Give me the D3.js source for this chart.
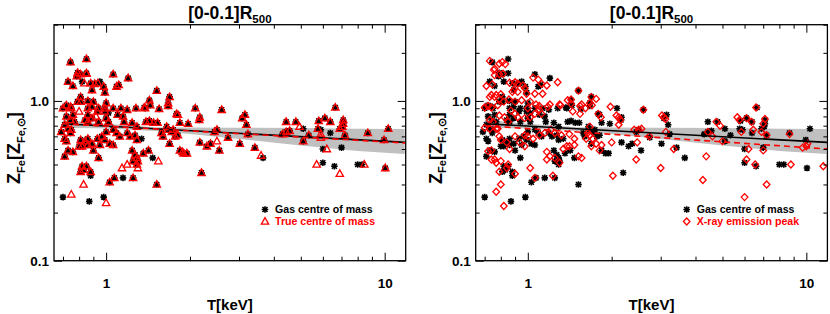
<!DOCTYPE html>
<html>
<head>
<meta charset="utf-8">
<script src="https://cdn.jsdelivr.net/npm/d3@7"></script>
<style>
  body { margin: 0; background: #fff; }
  svg { display: block; font-family: "Liberation Sans", Arial, Helvetica, sans-serif; font-weight: bold; }
</style>
</head>
<body>
<svg id="chart" width="830" height="314"></svg>
<script>
// ---- data: [T keV, Z_Fe] ----
var gasPoints = [
  [0.745,1.75],[0.85,1.83],[0.73,1.32],[0.76,1.24],[0.79,1.5],[0.785,1.43],[0.81,1.47],[0.85,1.49],[0.82,1.32],
  [0.88,1.29],[0.91,1.28],[0.935,1.29],[0.95,1.32],[0.98,1.23],[0.99,1.13],[0.89,1.17],[1.06,1.47],[1.09,1.23],
  [1.11,1.26],[1.2,1.39],[1.52,1.16],[1.69,1.06],[1.67,0.97],[1.79,0.83],
  [0.81,1.06],[0.81,0.99],[0.79,0.99],[0.72,0.94],[0.745,0.92],[0.7,0.9],[0.75,0.9],[0.86,1.0],[0.9,0.99],
  [0.89,0.92],[0.86,0.9],[1.0,0.97],[0.99,0.9],[0.94,0.9],[0.93,0.86],[1.06,0.9],[1.13,0.9],[1.19,0.88],
  [1.28,0.9],[1.38,0.9],[1.43,1.01],[1.44,0.94],[1.37,0.91],[1.55,0.89],[1.67,0.93],[1.02,0.84],
  [1.39,0.74],[1.43,0.75],[1.48,0.73],[1.53,0.73],[1.24,0.73],[1.29,0.69],[1.15,0.8],[1.16,0.74],[1.1,0.82],
  [0.99,0.86],[1.0,0.78],[1.02,0.74],[0.86,0.82],[0.89,0.78],[0.86,0.74],[0.84,0.76],[0.76,0.82],[0.745,0.76],
  [0.77,0.74],[0.72,0.8],[0.71,0.71],[0.94,0.74],[1.65,0.69],[1.67,0.66],[1.84,0.73],[1.97,0.72],[2.09,0.9],
  [2.17,0.79],[2.16,0.76],[1.81,0.82],[2.6,0.88],
  [0.69,0.64],[0.73,0.67],[0.745,0.63],[0.75,0.66],[0.71,0.58],[0.72,0.56],[0.73,0.49],[0.71,0.45],[0.76,0.48],
  [0.81,0.57],[0.82,0.52],[0.8,0.52],[0.84,0.56],[0.86,0.53],[0.89,0.54],[0.86,0.58],[0.93,0.58],[0.95,0.53],
  [0.9,0.49],[0.94,0.44],[0.965,0.6],[0.99,0.57],[1.03,0.54],[1.06,0.53],[1.0,0.64],[1.06,0.66],[1.09,0.63],
  [1.12,0.6],[1.19,0.63],[1.22,0.6],[1.27,0.61],[1.29,0.57],[1.34,0.58],[1.24,0.49],[1.27,0.46],[1.29,0.44],
  [1.25,0.42],[1.3,0.42],[1.29,0.4],[1.36,0.47],[1.42,0.49],[1.47,0.44],[1.58,0.63],[1.6,0.6],[1.72,0.64],
  [1.81,0.61],[1.69,0.54],[1.84,0.49],[1.77,0.6],[1.74,0.66],
  [0.82,0.39],[0.83,0.37],[0.81,0.36],[0.85,0.39],[0.88,0.36],[0.88,0.34],[0.7,0.25],[0.87,0.235],[0.98,0.25],
  [1.03,0.31],[1.07,0.33],[1.15,0.33],[1.25,0.33],[1.52,0.3],
  [1.9,0.47],[1.95,0.47],[2.17,0.55],[2.3,0.52],[2.37,0.54],[2.2,0.355],[2.55,0.49],[2.74,0.59],[2.45,0.64],
  [2.5,0.66],[3.15,0.82],[3.08,0.78],[3.19,0.71],[3.23,0.62],[3.02,0.54],[3.42,0.51],[3.66,0.44],
  [4.43,0.74],[4.56,0.65],[4.43,0.64],[4.3,0.62],[4.8,0.74],[5.1,0.67],[5.1,0.56],[5.34,0.61],[5.8,0.75],
  [6.1,0.78],[6.38,0.74],[6.65,0.91],[7.1,0.76],[7.1,0.72],[6.9,0.67],[6.38,0.63],[5.76,0.67],[6.0,0.5],
  [7.0,0.51],[6.0,0.41],[6.6,0.39],[8.0,0.4],[8.3,0.4],[10.05,0.38],[8.7,0.63],[9.95,0.57],[10.3,0.67],
  [7.2,0.61],[7.05,0.69],[5.9,0.66]
]

var truePoints = [
  [0.745,1.75],[0.85,1.83],[0.73,1.32],[0.76,1.24],[0.79,1.5],[0.785,1.43],[0.81,1.47],[0.85,1.49],[0.85,1.48],
  [0.835,1.29],[0.88,1.29],[0.91,1.28],[0.935,1.29],[0.98,1.23],[0.99,1.13],[0.89,1.17],[1.06,1.47],[1.09,1.23],
  [1.11,1.26],[1.2,1.39],[1.52,1.16],[1.69,1.06],[1.67,0.97],[1.79,0.83],
  [0.81,1.06],[0.81,0.99],[0.79,0.99],[0.72,0.94],[0.745,0.92],[0.7,0.9],[0.75,0.9],[0.86,1.0],[0.9,0.99],
  [0.89,0.92],[0.86,0.9],[1.0,0.97],[0.99,0.9],[0.94,0.9],[0.93,0.86],[1.06,0.9],[1.13,0.9],[1.19,0.88],
  [1.28,0.9],[1.38,0.9],[1.43,1.01],[1.44,0.94],[1.37,0.91],[1.55,0.89],[1.67,0.93],
  [1.39,0.74],[1.43,0.75],[1.48,0.73],[1.53,0.73],[1.24,0.73],[1.29,0.69],[1.15,0.8],[1.16,0.74],[1.1,0.82],
  [0.99,0.86],[1.0,0.78],[1.02,0.74],[0.86,0.82],[0.89,0.78],[0.86,0.74],[0.84,0.76],[0.76,0.82],[0.745,0.76],
  [0.77,0.74],[0.72,0.8],[0.71,0.71],[0.94,0.74],[1.65,0.69],[1.67,0.66],[1.84,0.73],[1.97,0.72],[2.09,0.9],
  [2.17,0.79],[2.16,0.76],[1.81,0.82],[2.6,0.88],[0.92,0.8],[0.8,0.86],
  [0.69,0.64],[0.73,0.67],[0.745,0.63],[0.75,0.66],[0.71,0.58],[0.72,0.56],[0.73,0.49],[0.71,0.45],[0.76,0.48],
  [0.81,0.57],[0.82,0.52],[0.8,0.52],[0.84,0.56],[0.86,0.53],[0.89,0.54],[0.86,0.58],[0.93,0.58],[0.95,0.53],
  [0.9,0.49],[0.94,0.44],[0.965,0.6],[0.99,0.57],[1.03,0.54],[1.06,0.53],[1.0,0.64],[1.06,0.66],[1.09,0.63],
  [1.12,0.6],[1.19,0.63],[1.22,0.6],[1.27,0.61],[1.29,0.57],[1.24,0.49],[1.27,0.46],[1.29,0.44],
  [1.25,0.42],[1.3,0.42],[1.29,0.4],[1.36,0.47],[1.42,0.49],[1.58,0.63],[1.6,0.6],[1.72,0.64],
  [1.81,0.61],[1.69,0.54],[1.84,0.49],[1.77,0.6],[1.74,0.66],
  [0.82,0.39],[0.83,0.37],[0.81,0.36],[0.85,0.39],[0.88,0.36],[0.83,0.3],[0.75,0.26],[1.0,0.23],
  [1.03,0.31],[1.07,0.33],[1.25,0.33],[1.52,0.3],[1.14,0.38],[1.19,0.4],[1.3,0.38],[1.54,0.42],[1.88,0.48],
  [1.9,0.47],[1.95,0.47],[2.17,0.55],[2.3,0.52],[2.37,0.54],[2.2,0.355],[2.55,0.49],[2.74,0.59],[2.45,0.64],
  [2.5,0.66],[2.5,0.56],[3.15,0.82],[3.08,0.78],[3.19,0.71],[3.23,0.62],[3.02,0.54],[3.42,0.51],[3.6,0.455],
  [4.43,0.74],[4.56,0.65],[4.43,0.64],[4.3,0.62],[4.8,0.74],[4.95,0.69],[5.1,0.56],[5.34,0.61],[5.8,0.75],
  [6.1,0.78],[6.38,0.74],[6.65,0.91],[7.1,0.76],[7.1,0.72],[6.9,0.67],[5.76,0.67],[5.9,0.62],[5.9,0.59],
  [6.2,0.5],[5.7,0.4],[6.9,0.35],[8.45,0.4],[10.05,0.38],[8.7,0.63],[9.95,0.57],[10.3,0.67],
  [7.2,0.61],[7.05,0.69]
]

var peakPoints = [
  [0.73,1.78],[0.755,1.56],[0.81,1.75],[0.83,1.7],[0.76,1.45],[0.79,1.47],[0.815,1.48],[0.71,1.24],[0.745,1.27],
  [0.86,1.3],[0.9,1.31],[0.92,1.28],[0.96,1.25],[0.975,1.2],[0.89,1.17],[0.92,1.14],[1.045,1.4],[1.09,1.36],
  [1.12,1.28],[1.17,1.25],[1.28,1.31],[0.76,1.59],[0.79,1.71],[1.52,1.16],[1.69,1.06],[1.67,0.97],[1.79,0.83],
  [0.73,1.06],[0.76,1.06],[0.79,1.03],[0.855,1.02],[0.9,0.99],[0.95,1.01],[1.02,0.99],[1.07,0.95],[1.1,0.93],
  [1.2,0.95],[1.3,0.95],[1.39,1.01],[1.43,1.02],[1.54,0.93],[1.56,0.95],[1.54,0.83],[1.76,1.03],[1.98,0.92],
  [2.08,0.81],[2.12,0.79],[2.12,0.71],[2.15,0.76],[0.74,1.09],[0.77,1.09],[0.8,1.1],[0.88,1.14],[0.99,1.11],
  [1.06,1.11],[1.13,1.11],[2.6,0.88],
  [0.7,0.91],[0.72,0.93],[0.74,0.91],[0.78,0.94],[0.82,0.99],[0.79,0.81],[0.825,0.79],[0.87,0.87],[0.9,0.83],
  [0.92,0.79],[0.73,0.76],[0.75,0.74],[0.78,0.67],[0.85,0.74],[0.975,0.78],[1.02,0.79],[1.06,0.83],[1.12,0.83],
  [1.0,0.9],[1.1,0.88],[1.18,0.92],[1.31,0.94],[1.43,0.96],[1.45,0.86],[1.61,0.9],[1.7,0.94],[1.83,0.79],
  [0.7,0.68],[0.73,0.67],[0.77,0.67],[0.79,0.6],[0.8,0.57],[0.84,0.55],[0.86,0.5],[0.9,0.6],[0.935,0.55],
  [0.975,0.61],[1.0,0.6],[1.045,0.58],[1.1,0.61],[1.15,0.63],[1.21,0.66],[1.25,0.63],[0.975,0.52],[1.32,0.61],
  [1.41,0.62],[1.47,0.58],[1.34,0.5],[1.38,0.52],[1.41,0.52],[1.47,0.53],[1.17,0.48],[1.17,0.43],[1.2,0.45],
  [1.25,0.44],[1.3,0.41],[1.52,0.45],[1.56,0.44],[1.67,0.61],[1.71,0.58],[1.69,0.52],[1.81,0.49],[1.84,0.53],
  [1.64,0.63],[1.62,0.58],[1.67,0.69],[1.76,0.54],[2.0,0.55],[2.02,0.34],
  [0.74,0.49],[0.74,0.43],[0.77,0.41],[0.8,0.42],[0.79,0.36],[0.8,0.3],[0.84,0.38],[0.85,0.4],[0.9,0.35],
  [0.77,0.27],[0.82,0.22],[1.02,0.38],[1.06,0.33],[1.23,0.34],[0.72,0.485],[0.76,0.43],
  [2.47,0.55],[2.41,0.66],[2.5,0.66],[2.56,0.67],[2.45,0.43],[2.73,0.6],
  [3.0,0.38],[3.03,0.81],[3.08,0.79],[3.12,0.77],[3.13,0.64],[3.34,0.5],[4.25,0.32],[4.37,0.45],[4.43,0.64],
  [4.6,0.6],[4.75,0.74],[4.9,0.7],[5.0,0.56],[5.65,0.79],[5.75,0.76],[5.84,0.64],[6.0,0.25],[6.1,0.43],
  [6.2,0.5],[6.45,0.66],[6.55,0.4],[6.9,0.64],[7.0,0.49],[7.2,0.61],[7.2,0.3],[7.0,0.72],[8.7,0.62],
  [8.8,0.4],[9.7,0.51],[10.0,0.52],[10.1,0.54],[11.5,0.39],[6.6,0.91],[6.35,0.74],[7.1,0.77],[6.1,0.78]
]

// fits (end points) and confidence band
var fitT = [0.7, 11.9]
var gasFitZ = [0.72, 0.55]
var trueFitZ = [0.72, 0.545]
var peakFitZ = [0.70, 0.50]
var bandT = [0.7, 1, 1.5, 2, 3, 5, 8, 11.8]
var bandHi = [0.762, 0.72, 0.685, 0.682, 0.679, 0.678, 0.67, 0.668]
var bandLo = [0.679, 0.672, 0.648, 0.622, 0.578, 0.526, 0.486, 0.465]

var xMajor = [1, 10]
var xMinor = [0.7, 0.8, 0.9, 2, 3, 4, 5, 6, 7, 8, 9]
var yMajor = [0.1, 1]
var yMinor = [0.2, 0.3, 0.4, 0.5, 0.6, 0.7, 0.8, 0.9, 2, 3]

var panels = [
  { dx: 0, red: truePoints, shape: 'triangle', label: 'True centre of mass', fit: trueFitZ },
  { dx: 421.7, red: peakPoints, shape: 'diamond', label: 'X-ray emission peak', fit: peakFitZ }
]

var svg = d3.select('#chart')
var plotL = 54, plotR = 405.7, plotT = 24.7, plotB = 260.7

var symAst = 'M-3.3,0H3.3M0,-3.3V3.3M-2.5,-2.5L2.5,2.5M-2.5,2.5L2.5,-2.5'
var symTri = 'M0,-3.9L3.7,2.7H-3.7Z'
var symDia = 'M0,-3.5L3.3,0L0,3.5L-3.3,0Z'

panels.forEach(function(p, k) {
    var g = svg.append('g').attr('transform', 'translate(' + p.dx + ',0)')

    var x = d3.scaleLog().domain([0.65, 11.9]).range([plotL, plotR])
    var y = d3.scaleLog().domain([0.1, 3]).range([plotB, plotT])

    g.append('clipPath').attr('id', 'clip' + k)
        .append('rect').attr('x', plotL).attr('y', plotT)
        .attr('width', plotR - plotL).attr('height', plotB - plotT)

    var plot = g.append('g').attr('clip-path', 'url(#clip' + k + ')')

    // band
    var band = bandT.map(function(t, i) { return [t, bandLo[i], bandHi[i]] })
    plot.append('path').datum(band)
        .attr('fill', '#c0c0c0')
        .attr('d', d3.area().x(d => x(d[0])).y0(d => y(d[1])).y1(d => y(d[2])))

    // points
    plot.selectAll('.gas').data(gasPoints).enter().append('path')
        .attr('transform', d => 'translate(' + x(d[0]) + ',' + y(d[1]) + ')')
        .attr('d', symAst).attr('stroke', '#000').attr('stroke-width', 1.6).attr('fill', 'none')

    plot.selectAll('.red').data(p.red).enter().append('path')
        .attr('transform', d => 'translate(' + x(d[0]) + ',' + y(d[1]) + ')')
        .attr('d', p.shape == 'triangle' ? symTri : symDia)
        .attr('stroke', '#ff0000').attr('stroke-width', 1.3).attr('fill', 'none')

    // fit lines
    var line = d3.line().x(d => x(d[0])).y(d => y(d[1]))
    plot.append('path').datum(fitT.map((t, i) => [t, gasFitZ[i]]))
        .attr('d', line).attr('stroke', '#000').attr('stroke-width', 1.6).attr('fill', 'none')
    plot.append('path').datum(fitT.map((t, i) => [t, p.fit[i]]))
        .attr('d', line).attr('stroke', '#ff0000').attr('stroke-width', 1.6)
        .attr('stroke-dasharray', '6,4').attr('fill', 'none')

    // axes, ticks inward on all four sides
    function style(a) {
        a.select('.domain').remove()
        a.selectAll('line').attr('stroke', '#000').attr('stroke-width', 1)
        a.selectAll('text').attr('font-size', 13.5).attr('font-weight', 'bold').attr('fill', '#000')
    }
    var fmtX = d => String(d)
    var fmtY = d => d3.format('.1f')(d)
    g.append('g').attr('transform', 'translate(0,' + plotB + ')')
        .call(d3.axisBottom(x).tickValues(xMajor).tickSize(-8).tickPadding(18).tickFormat(fmtX)).call(style)
    g.append('g').attr('transform', 'translate(0,' + plotB + ')')
        .call(d3.axisBottom(x).tickValues(xMinor).tickSize(-4).tickFormat('')).call(style)
    g.append('g').attr('transform', 'translate(0,' + plotT + ')')
        .call(d3.axisTop(x).tickValues(xMajor).tickSize(-8).tickFormat('')).call(style)
    g.append('g').attr('transform', 'translate(0,' + plotT + ')')
        .call(d3.axisTop(x).tickValues(xMinor).tickSize(-4).tickFormat('')).call(style)
    g.append('g').attr('transform', 'translate(' + plotL + ',0)')
        .call(d3.axisLeft(y).tickValues(yMajor).tickSize(-8).tickPadding(5).tickFormat(fmtY)).call(style)
    g.append('g').attr('transform', 'translate(' + plotL + ',0)')
        .call(d3.axisLeft(y).tickValues(yMinor).tickSize(-4).tickFormat('')).call(style)
    g.append('g').attr('transform', 'translate(' + plotR + ',0)')
        .call(d3.axisRight(y).tickValues(yMajor).tickSize(-8).tickFormat('')).call(style)
    g.append('g').attr('transform', 'translate(' + plotR + ',0)')
        .call(d3.axisRight(y).tickValues(yMinor).tickSize(-4).tickFormat('')).call(style)

    g.append('rect').attr('x', plotL).attr('y', plotT)
        .attr('width', plotR - plotL).attr('height', plotB - plotT)
        .attr('fill', 'none').attr('stroke', '#000').attr('stroke-width', 1.3)

    // titles
    var cx = (plotL + plotR) / 2
    var t = g.append('text').attr('x', cx).attr('y', 19).attr('text-anchor', 'middle')
        .attr('font-size', 17.5)
    t.append('tspan').text('[0-0.1]R')
    t.append('tspan').attr('dy', 4).attr('font-size', 11.5).text('500')

    g.append('text').attr('x', cx).attr('y', 310).attr('text-anchor', 'middle')
        .attr('font-size', 15).text('T[keV]')

    var yt = g.append('text').attr('transform', 'translate(20,148) rotate(-90)')
        .attr('text-anchor', 'middle').attr('font-size', 18)
    yt.append('tspan').text('Z')
    yt.append('tspan').attr('dy', 4.5).attr('font-size', 11).text('Fe')
    yt.append('tspan').attr('dy', -4.5).text('[Z')
    yt.append('tspan').attr('dy', 4.5).attr('font-size', 11).text('Fe,\u2299')
    yt.append('tspan').attr('dy', -4.5).text(']')

    // legend
    g.append('path').attr('transform', 'translate(265,209.5)').attr('d', symAst)
        .attr('stroke', '#000').attr('stroke-width', 1.6).attr('fill', 'none')
    g.append('path').attr('transform', 'translate(265,221.5)').attr('d', p.shape == 'triangle' ? symTri : symDia)
        .attr('stroke', '#ff0000').attr('stroke-width', 1.3).attr('fill', 'none')
    g.append('text').attr('x', 275).attr('y', 213.3).attr('font-size', 10.6).attr('fill', '#000')
        .text('Gas centre of mass')
    g.append('text').attr('x', 275).attr('y', 225.3).attr('font-size', 10.6).attr('fill', '#ff0000')
        .text(p.label)
})
</script>
</body>
</html>
